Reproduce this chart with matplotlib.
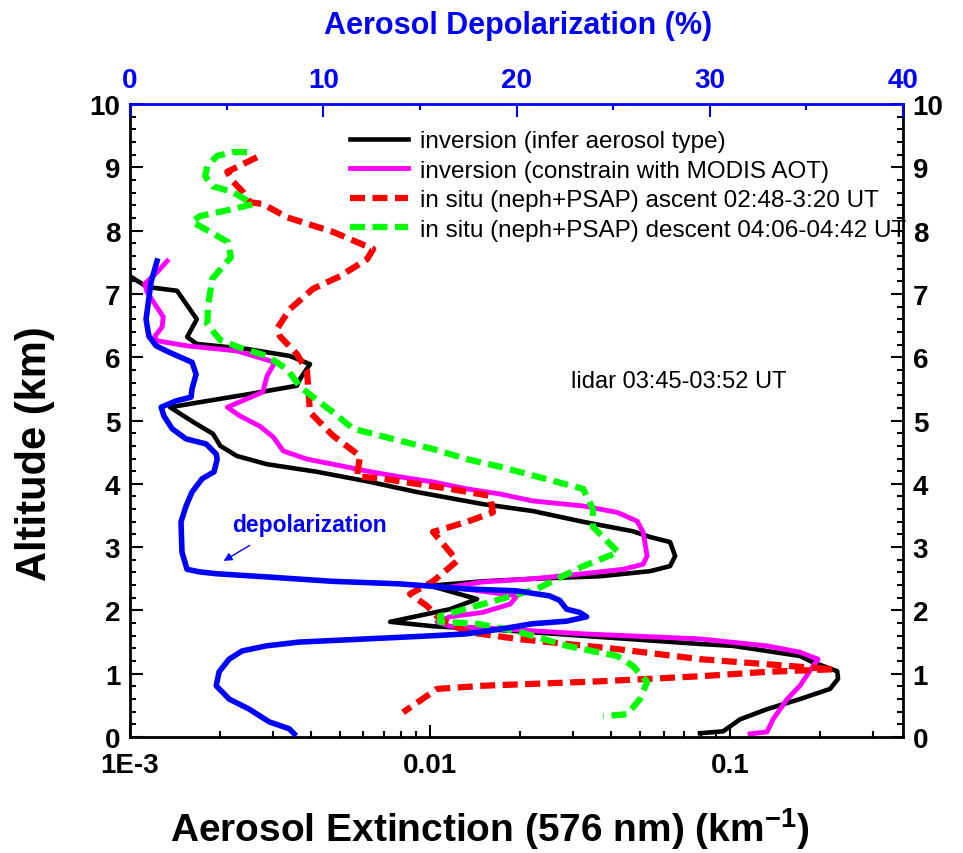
import numpy as np
import matplotlib
matplotlib.use("Agg")
import matplotlib.pyplot as plt
from matplotlib.ticker import (FixedLocator, FixedFormatter, LogLocator,
                               NullFormatter, MultipleLocator)

plt.rcParams['font.family'] = ['Liberation Sans', 'DejaVu Sans']
plt.rcParams['font.weight'] = 'bold'
plt.rcParams['mathtext.fontset'] = 'custom'
plt.rcParams['mathtext.rm'] = 'Liberation Sans'
plt.rcParams['mathtext.bf'] = 'Liberation Sans:bold'
plt.rcParams['mathtext.default'] = 'bf'

# inversion (infer aerosol type)
black_alt = [7.27, 7.11, 7.05, 6.60, 6.32, 6.21, 6.13, 6.02, 5.89, 5.66, 5.55, 5.42,
             5.29, 5.21, 4.98, 4.79, 4.60, 4.44, 4.31, 4.19, 4.04, 3.87, 3.68, 3.57,
             3.40, 3.25, 3.16, 3.08, 2.86, 2.70, 2.62, 2.54, 2.50, 2.46, 2.39, 2.18,
             2.02, 1.82, 1.75, 1.69, 1.58, 1.47, 1.44, 1.28, 1.18, 1.04, 0.92, 0.76,
             0.60, 0.44, 0.28, 0.09, 0.06]
black_ext = [1.007e-3, 1.14e-3, 1.435e-3, 1.67e-3, 1.55e-3, 1.67e-3, 2.455e-3, 3.41e-3,
             3.98e-3, 3.69e-3, 3.60e-3, 2.51e-3, 1.71e-3, 1.36e-3, 1.62e-3, 1.89e-3,
             2.0e-3, 2.27e-3, 2.86e-3, 4.2e-3, 6.17e-3, 9.05e-3, 0.0150, 0.0220, 0.0324,
             0.0475, 0.0541, 0.0631, 0.0656, 0.0631, 0.0541, 0.0369, 0.0220, 0.0150,
             0.0100, 0.01435, 0.01166, 0.00736, 0.01023, 0.0171, 0.0369, 0.0794, 0.1023,
             0.171, 0.189, 0.2275, 0.229, 0.2154, 0.171, 0.1328, 0.108, 0.0948, 0.0794]

# inversion (constrain with MODIS AOT)
mag_alt = [7.52, 7.36, 7.16, 7.03, 6.84, 6.64, 6.48, 6.33, 6.26, 6.18, 6.10, 5.92,
           5.70, 5.45, 5.21, 5.07, 4.91, 4.74, 4.52, 4.39, 4.31, 4.20, 4.11, 4.03,
           3.92, 3.84, 3.73, 3.65, 3.55, 3.41, 3.24, 2.86, 2.73, 2.65, 2.58, 2.50,
           2.45, 2.37, 2.23, 2.10, 1.97, 1.90, 1.82, 1.75, 1.71, 1.63, 1.55, 1.44,
           1.34, 1.23, 1.12, 0.81, 0.60, 0.28, 0.08, 0.05]
mag_ext = [1.33e-3, 1.24e-3, 1.12e-3, 1.14e-3, 1.21e-3, 1.29e-3, 1.28e-3, 1.21e-3,
           1.23e-3, 1.55e-3, 2.27e-3, 3.04e-3, 2.86e-3, 2.77e-3, 2.11e-3, 2.33e-3,
           2.71e-3, 3.0e-3, 3.24e-3, 3.89e-3, 4.75e-3, 6.17e-3, 7.94e-3, 0.01023,
           0.01328, 0.0171, 0.0220, 0.0324, 0.0420, 0.0490, 0.0513, 0.0529, 0.0513,
           0.0440, 0.0324, 0.0220, 0.0150, 0.01166, 0.0195, 0.0185, 0.0150, 0.01166,
           0.01055, 0.01166, 0.0171, 0.0324, 0.0794, 0.1328, 0.171, 0.1965, 0.189,
           0.171, 0.155, 0.139, 0.1328, 0.1166]

# in situ ascent
asc_alt = [9.16, 8.93, 8.78, 8.61, 8.45, 8.42, 8.21, 7.98, 7.71, 7.55, 7.28, 7.08,
           6.76, 6.45, 6.33, 6.05, 5.78, 5.13, 4.76, 4.44, 4.12, 4.08, 3.92, 3.81,
           3.55, 3.40, 3.24, 2.92, 2.78, 2.46, 2.26, 2.07, 1.86, 1.66, 1.55, 1.39,
           1.23, 1.15, 1.07, 1.03, 0.96, 0.88, 0.81, 0.76, 0.39]
asc_ext = [2.65e-3, 2.11e-3, 2.20e-3, 2.38e-3, 2.51e-3, 2.77e-3, 3.34e-3, 4.75e-3,
           6.46e-3, 6.17e-3, 5.01e-3, 4.07e-3, 3.41e-3, 3.09e-3, 3.16e-3, 3.60e-3,
           3.89e-3, 3.98e-3, 4.75e-3, 5.84e-3, 5.71e-3, 6.97e-3, 0.01166, 0.01585,
           0.0162, 0.01328, 0.01023, 0.01166, 0.0123, 0.01023, 8.58e-3, 9.77e-3,
           0.0108, 0.01328, 0.0195, 0.0420, 0.0794, 0.1328, 0.2205, 0.1328, 0.0794,
           0.0369, 0.0150, 0.01055, 8.13e-3]

# in situ descent
des_alt = [9.24, 9.24, 9.18, 9.02, 8.86, 8.70, 8.61, 8.42, 8.34, 8.23, 8.14, 7.98,
           7.82, 7.58, 7.24, 6.81, 6.52, 6.27, 6.15, 6.02, 5.81, 5.53, 5.13, 4.87,
           4.68, 4.55, 4.39, 4.27, 3.92, 3.60, 3.32, 2.92, 2.70, 2.34, 2.10, 1.91,
           1.82, 1.79, 1.67, 1.44, 1.28, 1.12, 0.87, 0.60, 0.36, 0.33]
des_ext = [2.455e-3, 2.20e-3, 1.95e-3, 1.81e-3, 1.78e-3, 1.89e-3, 2.20e-3, 2.57e-3,
           2.20e-3, 1.71e-3, 1.61e-3, 1.85e-3, 2.12e-3, 2.17e-3, 1.88e-3, 1.82e-3,
           1.81e-3, 2.0e-3, 2.33e-3, 2.86e-3, 3.34e-3, 3.69e-3, 4.75e-3, 5.54e-3,
           7.94e-3, 0.01023, 0.01328, 0.0171, 0.0324, 0.0349, 0.0349, 0.0424, 0.0324,
           0.0227, 0.0150, 0.0108, 0.0108, 0.01435, 0.0195, 0.0286, 0.0420, 0.0475,
           0.0529, 0.0501, 0.0454, 0.0378]

# lidar depolarization (%)
dep_alt = [7.52, 7.19, 6.60, 6.33, 6.18, 6.08, 5.92, 5.73, 5.50, 5.37, 5.31, 5.21,
           5.07, 4.87, 4.71, 4.63, 4.47, 4.39, 4.19, 4.08, 3.87, 3.65, 3.40, 2.92,
           2.65, 2.61, 2.58, 2.53, 2.46, 2.42, 2.34, 2.31, 2.23, 2.16, 2.02, 1.97,
           1.90, 1.83, 1.79, 1.71, 1.63, 1.60, 1.55, 1.50, 1.44, 1.36, 1.23, 1.03,
           0.81, 0.60, 0.44, 0.24, 0.13, 0.05]
dep_pct = [1.40, 1.09, 0.83, 0.98, 1.35, 2.02, 3.21, 3.42, 3.21, 3.16, 2.38, 1.61,
           1.76, 2.18, 2.90, 3.94, 4.46, 4.51, 4.35, 3.73, 3.21, 2.90, 2.64, 2.69,
           2.95, 3.58, 4.46, 7.05, 10.47, 13.94, 17.41, 20.0, 21.71, 22.23, 22.59,
           23.26, 23.63, 22.59, 20.83, 19.27, 17.41, 15.65, 12.23, 8.76, 7.05, 5.80,
           5.13, 4.61, 4.46, 5.13, 6.17, 7.20, 8.24, 8.50]

ext_ticks = [1e-3, 1e-2, 1e-1]
ext_ticklabels = ['1E-3', '0.01', '0.1']

fig = plt.figure(figsize=(9.63, 8.54), dpi=100)
ax = fig.add_axes([0.135, 0.1358, 0.8027, 0.7412])

ax.plot(black_ext, black_alt, color='black', lw=3.3, label='inversion (infer aerosol type)')
ax.plot(mag_ext, mag_alt, color='#ff00ff', lw=3.5, label='inversion (constrain with MODIS AOT)')
ax.plot(asc_ext, asc_alt, color='#ff0000', lw=4.5, dashes=(2.4, 1.2),
        label='in situ (neph+PSAP) ascent 02:48-3:20 UT')
ax.plot(des_ext, des_alt, color='#00ff00', lw=4.5, dashes=(2.4, 1.2),
        label='in situ (neph+PSAP) descent 04:06-04:42 UT')

ax.set_xscale('log')
ax.set_xlim(1e-3, 0.377)
ax.set_ylim(0, 10)
ax.xaxis.set_major_locator(FixedLocator(ext_ticks))
ax.xaxis.set_major_formatter(FixedFormatter(ext_ticklabels))
ax.xaxis.set_minor_locator(LogLocator(base=10, subs=np.arange(2, 10)))
ax.xaxis.set_minor_formatter(NullFormatter())
ax.yaxis.set_major_locator(MultipleLocator(1))
ax.yaxis.set_minor_locator(MultipleLocator(0.2))

ax.tick_params(axis='both', which='both', direction='in', width=1.5, labelsize=20)
ax.tick_params(which='major', length=9)
ax.tick_params(which='minor', length=4.5)
ax.tick_params(axis='y', which='both', left=True, right=True,
               labelleft=True, labelright=True, pad=7)
ax.tick_params(axis='x', which='both', top=False, bottom=True, pad=11)
for s in ['left', 'right', 'bottom']:
    ax.spines[s].set_linewidth(2)
ax.spines['top'].set_visible(False)

ax.legend(loc='upper left', bbox_to_anchor=(0.2846, 0.959), frameon=False,
          prop={'size': 17.5, 'weight': 'normal'}, handlelength=2.4,
          handletextpad=0.5, labelspacing=0.31, borderaxespad=0, borderpad=0)

ax.text(0.571, 0.5624, 'lidar 03:45-03:52 UT', transform=ax.transAxes,
        fontsize=17, fontweight='normal', va='center', ha='left')

# depolarization on the top axis
ax2 = ax.twiny()
ax2.plot(dep_pct, dep_alt, color='#0000ff', lw=4)
ax2.set_xlim(0, 40)
ax2.xaxis.set_major_locator(MultipleLocator(10))
ax2.xaxis.set_minor_locator(MultipleLocator(5))
ax2.tick_params(axis='x', which='both', direction='in', width=1.5, labelsize=20,
                colors='#0000ff', pad=8)
ax2.tick_params(axis='x', which='major', length=9)
ax2.tick_params(axis='x', which='minor', length=4.5)
ax2.spines['top'].set_color('#0000ff')
ax2.spines['top'].set_linewidth(2)
for s in ['left', 'right', 'bottom']:
    ax2.spines[s].set_visible(False)

ax2.text(9.27, 3.36, 'depolarization', color='#0000ff', fontsize=16.5,
         ha='center', va='center')
ax2.annotate('', xy=(4.72, 2.76), xytext=(6.32, 3.05),
             arrowprops=dict(arrowstyle='-|>', color='#0000ff', lw=1,
                             mutation_scale=12))

fig.text(0.0363, 0.4684, 'Altitude (km)', rotation=90, ha='center', va='center',
         fontsize=30)
fig.text(0.1765, 0.014, r'Aerosol Extinction (576 nm) (km$^{-1}$)',
         ha='left', va='baseline', fontsize=28)
fig.text(0.538, 0.960, 'Aerosol Depolarization (%)', color='#0000ff',
         ha='center', va='baseline', fontsize=22)

fig.savefig('out.png', dpi=100)
